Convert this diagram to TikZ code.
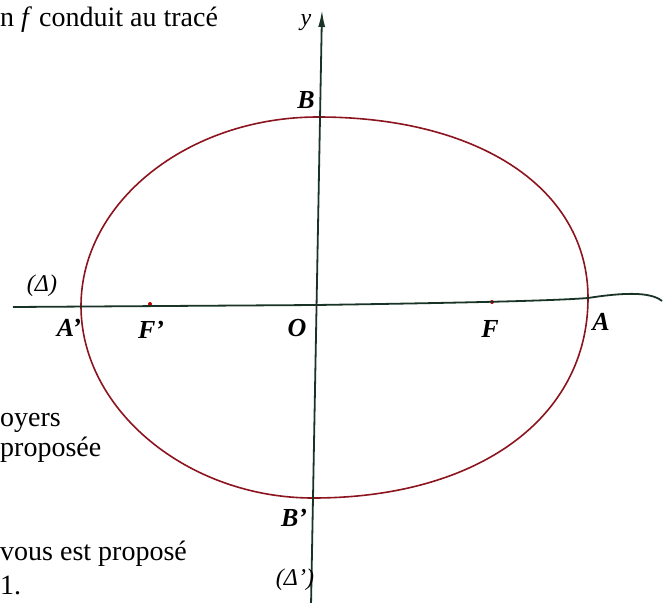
\documentclass[tikz,border=0pt]{standalone}
\usepackage{fontspec}
\setmainfont{Liberation Serif}
\usetikzlibrary{arrows.meta,positioning}
\definecolor{curvered}{rgb}{0.55, 0.08, 0.12}
\definecolor{axisgreen}{rgb}{0.1, 0.2, 0.15}
\tikzstyle{axis} = [
    draw=axisgreen,
    line width=1.8pt
]
\tikzstyle{conic} = [
    draw=curvered,
    line width=1.6pt
]
\tikzstyle{point} = [
    inner sep=1pt,
    font=\fontsize{26}{30}\selectfont\bfseries\itshape
]
\tikzstyle{axisname} = [
    inner sep=1pt,
    font=\fontsize{24}{28}\selectfont\itshape
]
\tikzstyle{focus} = [
    circle,
    fill=red!75!black,
    inner sep=0pt,
    minimum size=4pt
]
\tikzstyle{pagetext} = [
    anchor=base west,
    inner sep=0pt,
    font=\fontsize{28}{32}\selectfont
]

\begin{document}
\begin{tikzpicture}[x=1pt, y=-1pt]
    \useasboundingbox (0,0) rectangle (668,602);
    \coordinate (O) at (316,305);
    \coordinate (ytop) at (322,10);
    \coordinate (ybot) at (311,606);
    \coordinate (xleft) at (13,307);
    \coordinate (xright) at (662,301);
    \coordinate (B) at (318,117);
    \coordinate (Bp) at (313,498);
    \coordinate (A) at (588,298);
    \coordinate (Ap) at (81,306);
    \node[focus] (F) at (492,302) {};
    \node[focus] (Fp) at (150,304) {};
    \draw[conic] (A) .. controls (588,189) and (480,117) .. (B)
        .. controls (188,117) and (81,202) .. (Ap)
        .. controls (81,410) and (188,498) .. (Bp)
        .. controls (478,498) and (588,418) .. (A) -- cycle;
    \draw[axis] (xleft) -- (O) .. controls (450,303) and (550,301) .. (A)
        .. controls (620,293) and (650,291) .. (xright);
    \draw[axis, -{Latex[length=17pt, width=7pt]}] (ybot) -- (ytop);
    \node[axisname] (ylab) at (306,23) {y};
    \node[point] (Blab) at (306,100) {B};
    \node[point] (Bplab) at (294,518) {B'};
    \node[point] (Olab) at (297,328) {O};
    \node[point] (Aplab) at (69,328) {A'};
    \node[point] (Alab) at (601,322) {A};
    \node[point] (Flab) at (490,329) {F};
    \node[point] (Fplab) at (151,330) {F'};
    \node[axisname] (dlab) at (42,286) {(Δ)};
    \node[axisname] (dplab) at (295,580) {(Δ’)};
    \node[pagetext] at (0,27) {n \textit{f} conduit au tracé};
    \node[pagetext] at (0,426) {oyers};
    \node[pagetext] at (0,456) {proposée};
    \node[pagetext] at (0,560) {vous est proposé};
    \node[pagetext] at (0,594) {1.};
\end{tikzpicture}
\end{document}
